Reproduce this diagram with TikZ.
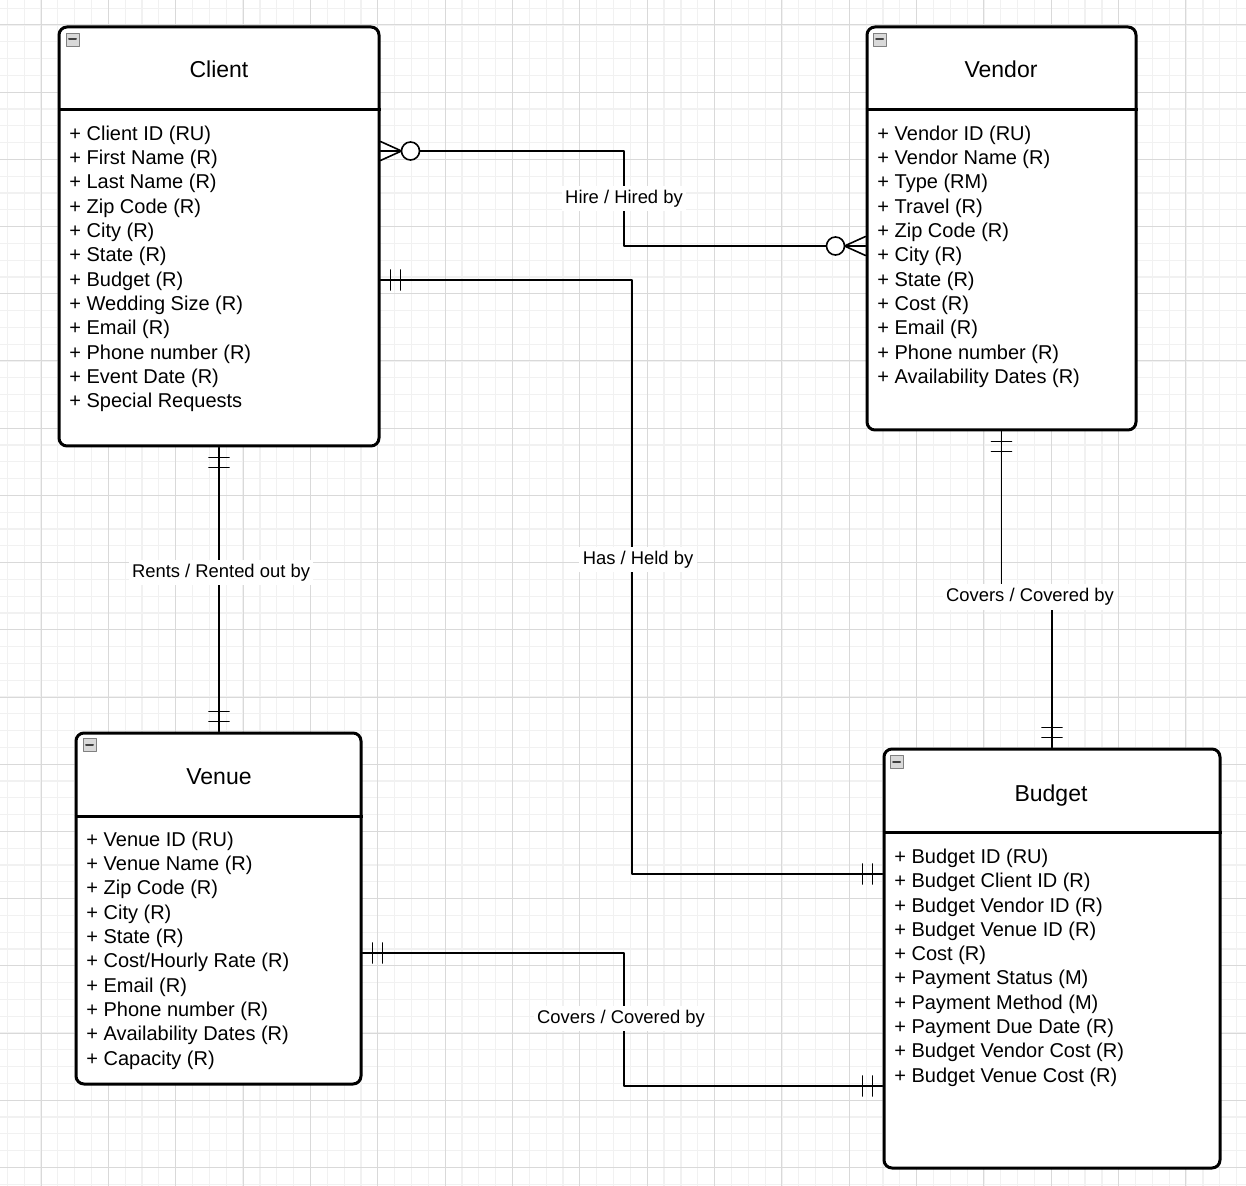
\documentclass[tikz,border=0pt]{standalone}
\usepackage{fontspec}
\setmainfont{Liberation Sans}
\usetikzlibrary{calc}
\definecolor{gridminor}{HTML}{F1F1F1}
\definecolor{gridmajor}{HTML}{D9D9D9}
\tikzset{
  every picture/.style={line join=round, line cap=round},
  entity/.style={draw, line width=1.5pt, rounded corners=4pt, fill=white, inner sep=0pt},
  divider/.style={line width=1.5pt, line cap=butt},
  title/.style={anchor=base, font=\fontsize{11.5}{14}\selectfont},
  attrs/.style={anchor=north west, align=left, inner sep=0pt, font=\fontsize{10}{12.15}\selectfont},
  rel/.style={line width=0.75pt},
  lbl/.style={fill=white, inner sep=1.75pt, text height=7pt, text depth=2pt, font=\fontsize{9.2}{11}\selectfont},
  marker/.style={line width=0.8pt},
  mandone/.pic={\draw[marker] (10,-10) -- (10,10) (20,-10) -- (20,10);},
  zeromany/.pic={\draw[marker] (0,-9.5) -- (21,0) -- (0,9.5);
    \draw[marker, fill=white] (30,0) circle (9);},
  collapse/.pic={\draw[gray, fill=gray!30, line width=0.4pt] (-6.5,-6.5) rectangle (6.5,6.5);
    \draw[black!75, line width=1pt] (-3.5,0) -- (3.5,0);},
}

\begin{document}
\begin{tikzpicture}[x=0.5pt, y=-0.5pt]
\useasboundingbox (0,0) rectangle (1246,1186);

% background grid
\begin{scope}
\clip (0,0) rectangle (1246,1186);
\foreach \i in {0,...,74} \draw[gridminor, line width=0.6pt] (7.3+\i*16.84,0) -- ++(0,1186);
\foreach \j in {0,...,71} \draw[gridminor, line width=0.6pt] (0,8.2+\j*16.8) -- ++(1246,0);
\foreach \k in {0,...,17} {
  \draw[gridmajor, line width=0.5pt] (41+\k*67.35,0) -- ++(0,1186);
  \draw[gridmajor, line width=0.5pt] (0,25+\k*67.2) -- ++(1246,0);
}
\end{scope}

% entities
\node[entity, minimum width=160pt, minimum height=209.5pt] (client) at (219,236.5) {};
\node[entity, minimum width=134.5pt, minimum height=201.5pt] (vendor) at (1001.5,228.5) {};
\node[entity, minimum width=142.5pt, minimum height=175.5pt] (venue) at (218.5,908.5) {};
\node[entity, minimum width=168pt, minimum height=209.5pt] (budget) at (1052,958.5) {};

\draw[divider] (client.west |- 0,110) -- (client.east |- 0,110);
\draw[divider] (vendor.west |- 0,110) -- (vendor.east |- 0,110);
\draw[divider] (venue.west |- 0,816) -- (venue.east |- 0,816);
\draw[divider] (budget.west |- 0,832) -- (budget.east |- 0,832);

\pic at ($(client.north west)+(15,14)$) {collapse};
\pic at ($(vendor.north west)+(14,14)$) {collapse};
\pic at ($(venue.north west)+(15,13)$) {collapse};
\pic at ($(budget.north west)+(14,14)$) {collapse};

\node[title] (clienttitle) at (219,78) {Client};
\node[title] (vendortitle) at (1001,78) {Vendor};
\node[title] (venuetitle) at (219,784) {Venue};
\node[title] (budgettitle) at (1051,801) {Budget};

\node[attrs] (clientattrs) at (69,125.5) {+ Client ID (RU)\\+ First Name (R)\\+ Last Name (R)\\+ Zip Code (R)\\+ City (R)\\+ State (R)\\+ Budget (R)\\+ Wedding Size (R)\\+ Email (R)\\+ Phone number (R)\\+ Event Date (R)\\+ Special Requests};
\node[attrs] (vendorattrs) at (877,125.5) {+ Vendor ID (RU)\\+ Vendor Name (R)\\+ Type (RM)\\+ Travel (R)\\+ Zip Code (R)\\+ City (R)\\+ State (R)\\+ Cost (R)\\+ Email (R)\\+ Phone number (R)\\+ Availability Dates (R)};
\node[attrs] (venueattrs) at (86,831.5) {+ Venue ID (RU)\\+ Venue Name (R)\\+ Zip Code (R)\\+ City (R)\\+ State (R)\\+ Cost/Hourly Rate (R)\\+ Email (R)\\+ Phone number (R)\\+ Availability Dates (R)\\+ Capacity (R)};
\node[attrs] (budgetattrs) at (894,848.5) {+ Budget ID (RU)\\+ Budget Client ID (R)\\+ Budget Vendor ID (R)\\+ Budget Venue ID (R)\\+ Cost (R)\\+ Payment Status (M)\\+ Payment Method (M)\\+ Payment Due Date (R)\\+ Budget Vendor Cost (R)\\+ Budget Venue Cost (R)};

% relationships
\draw[rel] (client.east |- 0,151) -| (624,197) |- (vendor.west |- 0,246);
\draw[rel] (client.east |- 0,280) -| (632,558) |- (budget.west |- 0,874);
\draw[rel] (client.south) -- (client.south |- venue.north);
\draw[rel] (vendor.south) |- (1052,595) -- (budget.north);
\draw[rel] (venue.east |- 0,953) -| (624,1016) |- (budget.west |- 0,1086);

\pic at (client.east |- 0,151) {zeromany};
\pic[rotate=180] at (vendor.west |- 0,246) {zeromany};
\pic at (client.east |- 0,280) {mandone};
\pic[rotate=180] at (budget.west |- 0,874) {mandone};
\pic[rotate=-90] at (client.south) {mandone};
\pic[rotate=90] at (client.south |- venue.north) {mandone};
\pic[rotate=-90] at (vendor.south) {mandone};
\pic[rotate=90] at (budget.north) {mandone};
\pic at (venue.east |- 0,953) {mandone};
\pic[rotate=180] at (budget.west |- 0,1086) {mandone};

\node[lbl] (hirelbl) at (624,199) {Hire / Hired by};
\node[lbl] (haslbl) at (638,560) {Has / Held by};
\node[lbl] (rentslbl) at (221,573) {Rents / Rented out by};
\node[lbl] (coverslbl) at (1030,597) {Covers / Covered by};
\node[lbl] (venuecoverslbl) at (621,1018) {Covers / Covered by};
\end{tikzpicture}
\end{document}
